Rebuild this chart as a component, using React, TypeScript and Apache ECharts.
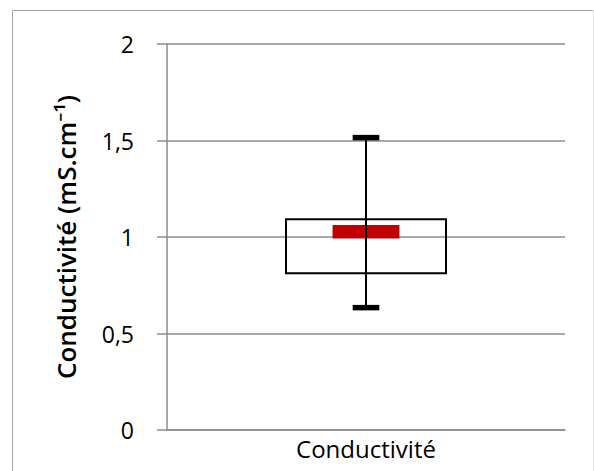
import React, { useEffect, useRef } from "react";
import * as echarts from "echarts";

// Conductivity summary: whisker ends, box quartiles and mean marker
const categories = ["Conductivité"];
const minValues = [0.634];
const q1Values = [0.812];
const meanValues = [1.027];
const q3Values = [1.092];
const maxValues = [1.515];
const yTicks = [0, 0.5, 1, 1.5, 2];

const FONT = "'Open Sans', 'Noto Sans', sans-serif";

export default function App() {
  const ref = useRef<HTMLDivElement>(null);

  useEffect(() => {
    if (!ref.current) return;
    const chart = echarts.init(ref.current, undefined, { renderer: "svg" });

    const data = categories.map((_, i) => [
      i,
      minValues[i],
      q1Values[i],
      meanValues[i],
      q3Values[i],
      maxValues[i],
    ]);

    chart.setOption({
      animation: false,
      backgroundColor: "#ffffff",
      graphic: [
        {
          type: "line",
          shape: { x1: 12.5, y1: 10.5, x2: 12.5, y2: 471 },
          style: { stroke: "#a6a6a6", lineWidth: 1 },
          silent: true,
        },
        {
          type: "line",
          shape: { x1: 12.5, y1: 10.5, x2: 593.5, y2: 10.5 },
          style: { stroke: "#a6a6a6", lineWidth: 1 },
          silent: true,
        },
        {
          type: "line",
          shape: { x1: 593.5, y1: 10.5, x2: 593.5, y2: 471 },
          style: { stroke: "#e0e0e0", lineWidth: 1 },
          silent: true,
        },
      ],
      grid: { left: 167, right: 29, top: 44, bottom: 41, containLabel: false },
      xAxis: {
        type: "category",
        data: categories,
        axisLine: { show: true, lineStyle: { color: "#8c8c8c", width: 1.5 } },
        axisTick: { show: false },
        axisLabel: {
          color: "#000",
          fontFamily: FONT,
          fontSize: 24,
          margin: 6,
        },
      },
      yAxis: {
        type: "value",
        min: yTicks[0],
        max: yTicks[yTicks.length - 1],
        interval: 0.5,
        name: "Conductivité (mS.cm⁻¹)",
        nameLocation: "middle",
        nameGap: 88,
        nameTextStyle: {
          color: "#000",
          fontFamily: FONT,
          fontSize: 26,
          fontWeight: 600,
        },
        axisLine: { show: true, lineStyle: { color: "#8c8c8c", width: 1.5 } },
        axisTick: {
          show: true,
          length: 10,
          lineStyle: { color: "#8c8c8c", width: 1.5 },
        },
        axisLabel: {
          color: "#000",
          fontFamily: FONT,
          fontSize: 23,
          margin: 33,
          formatter: (v: number) => String(v).replace(".", ","),
        },
        splitLine: { show: true, lineStyle: { color: "#8c8c8c", width: 1.5 } },
      },
      series: [
        {
          type: "custom",
          data,
          encode: { x: 0, y: [1, 2, 3, 4, 5] },
          renderItem: (params: any, api: any) => {
            const idx = api.value(0);
            const band = api.size([1, 0])[0];
            const [cx, yMin] = api.coord([idx, api.value(1)]);
            const yQ1 = api.coord([idx, api.value(2)])[1];
            const yMean = api.coord([idx, api.value(3)])[1];
            const yQ3 = api.coord([idx, api.value(4)])[1];
            const yMax = api.coord([idx, api.value(5)])[1];
            const boxW = band * 0.402;
            const capW = band * 0.067;
            const capH = 5.5;
            const meanW = band * 0.168;
            const meanH = 13.5;
            return {
              type: "group",
              children: [
                {
                  type: "rect",
                  shape: { x: cx - boxW / 2, y: yQ3, width: boxW, height: yQ1 - yQ3 },
                  style: { fill: "rgba(255,255,255,0)", stroke: "#000", lineWidth: 2 },
                },
                {
                  type: "line",
                  shape: { x1: cx, y1: yMax, x2: cx, y2: yMin },
                  style: { stroke: "#000", lineWidth: 2 },
                },
                {
                  type: "rect",
                  shape: { x: cx - capW / 2, y: yMax - capH / 2, width: capW, height: capH },
                  style: { fill: "#000" },
                },
                {
                  type: "rect",
                  shape: { x: cx - capW / 2, y: yMin - capH / 2, width: capW, height: capH },
                  style: { fill: "#000" },
                },
                {
                  type: "rect",
                  shape: { x: cx - meanW / 2, y: yMean - meanH / 2, width: meanW, height: meanH },
                  style: { fill: "#c00000" },
                },
                {
                  type: "line",
                  shape: { x1: cx, y1: yMean - meanH / 2, x2: cx, y2: yMean + meanH / 2 },
                  style: { stroke: "#000", lineWidth: 2 },
                },
              ],
            };
          },
          z: 10,
        },
      ],
    });

    return () => chart.dispose();
  }, []);

  return <div ref={ref} style={{ width: 594, height: 471, position: "absolute", left: 0, top: 0 }} />;
}
